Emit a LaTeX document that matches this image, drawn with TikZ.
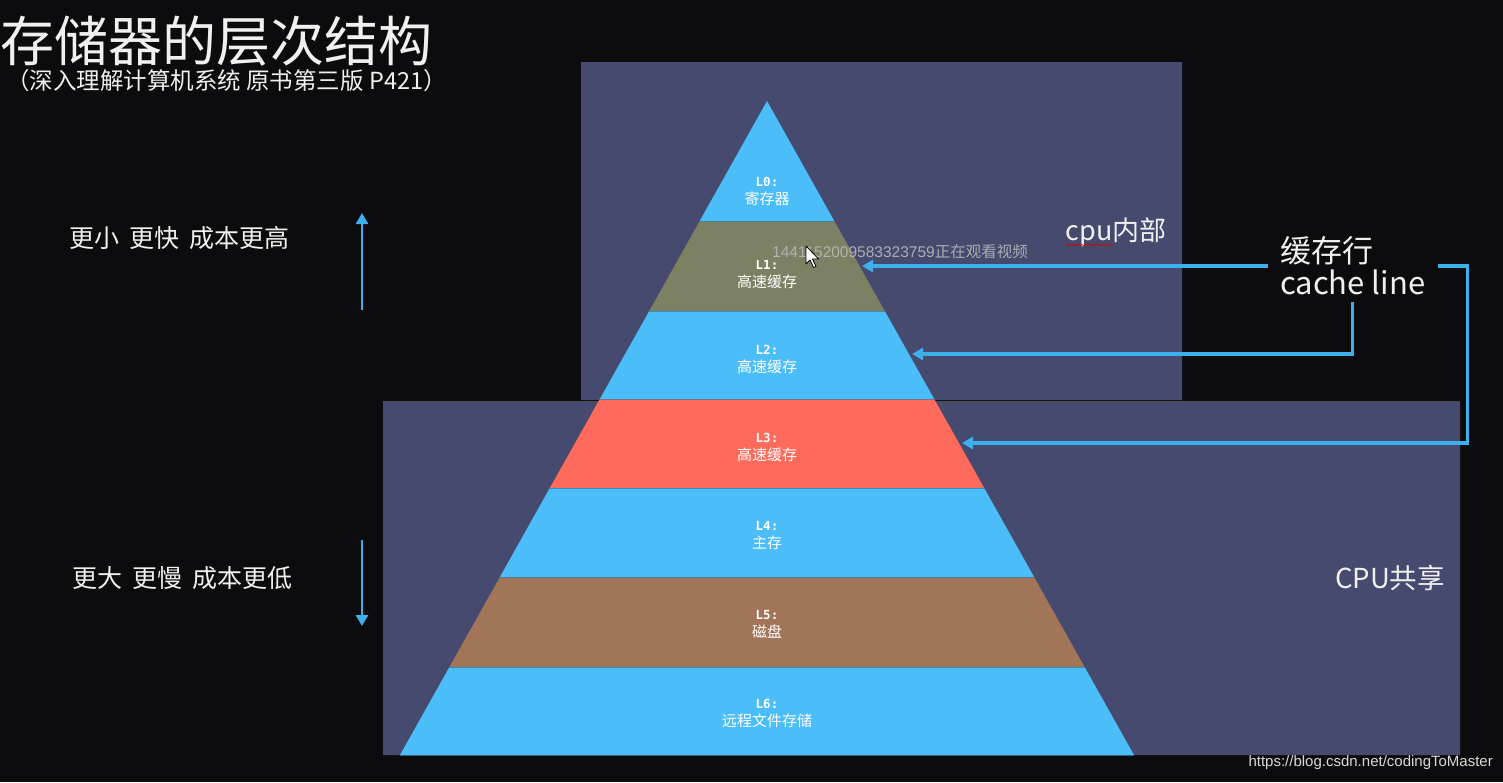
\documentclass[tikz,border=0pt]{standalone}
\usepackage{fontspec}
\setmainfont{Noto Sans CJK SC}
\newfontfamily\codefont{DejaVu Sans Mono}
\newfontfamily\webfont{Liberation Sans}
\usetikzlibrary{arrows.meta,calc,decorations.pathmorphing}
\usepackage{tkz-euclide}
\definecolor{BoardClr}{HTML}{0C0C0E}
\definecolor{PanelClr}{HTML}{464A6E}
\definecolor{SkyClr}{HTML}{4BBDF8}
\definecolor{OliveClr}{HTML}{7B8162}
\definecolor{CoralClr}{HTML}{FE6A5B}
\definecolor{ClayClr}{HTML}{A27458}
\definecolor{LinkClr}{HTML}{3DB0EC}

\begin{document}
\begin{tikzpicture}[x=1pt,y=-1pt,
  link/.style={draw=LinkClr,line width=3.2pt,
    -{Triangle[length=11pt,width=12pt]}},
  tier/.style={text=white,align=center,inner sep=0pt,
    font={\fontsize{15pt}{18pt}\selectfont}},
  chalk/.style={text=white!94!black,inner sep=0pt}]
\useasboundingbox (0,0) rectangle (1503,782);
\fill[BoardClr] (0,0) rectangle (1503,782);

% panels
\tkzDefPoints{581/62/P1,1182/62/P2,1182/400/P3,581/400/P4}
\tkzDefPoints{383/401/Q1,1460/401/Q2,1460/755/Q3,383/755/Q4}
\tkzFillPolygon[fill=PanelClr](P1,P2,P3,P4)
\tkzFillPolygon[fill=PanelClr](Q1,Q2,Q3,Q4)
\tkzDrawSegment[color=black!70,line width=0.8pt](Q1,Q2)

% pyramid
\tkzDefPoints{767/101/T,
  699.7/221/W1,834.3/221/E1,
  649.2/311/W2,884.8/311/E2,
  599.8/399/W3,934.2/399/E3,
  549.8/488/W4,984.2/488/E4,
  499.9/577/W5,1034.1/577/E5,
  449.4/667/W6,1084.6/667/E6,
  400/755/W7,1134/755/E7}

\tkzFillPolygon[fill=SkyClr](T,W1,E1)
\tkzFillPolygon[fill=OliveClr](W1,W2,E2,E1)
\tkzFillPolygon[fill=SkyClr](W2,W3,E3,E2)
\tkzFillPolygon[fill=CoralClr](W3,W4,E4,E3)
\tkzFillPolygon[fill=SkyClr](W4,W5,E5,E4)
\tkzFillPolygon[fill=ClayClr](W5,W6,E6,E5)
\tkzFillPolygon[fill=SkyClr](W6,W7,E7,E6)
\tkzDrawSegments[color=SkyClr!65!black,line width=0.8pt,opacity=.7](W1,E1 W2,E2 W3,E3 W4,E4 W5,E5 W6,E6 W7,E7)

\node[tier] (lv0) at (767,191) {{\codefont\bfseries\fontsize{12.5pt}{18pt}\selectfont L0:}\\寄存器};
\node[tier] (lv1) at (767,275) {{\codefont\bfseries\fontsize{12.5pt}{18pt}\selectfont L1:}\\高速缓存};
\node[tier] (lv2) at (767,359) {{\codefont\bfseries\fontsize{12.5pt}{18pt}\selectfont L2:}\\高速缓存};
\node[tier] (lv3) at (767,447) {{\codefont\bfseries\fontsize{12.5pt}{18pt}\selectfont L3:}\\高速缓存};
\node[tier] (lv4) at (767,536) {{\codefont\bfseries\fontsize{12.5pt}{18pt}\selectfont L4:}\\主存};
\node[tier] (lv5) at (767,624) {{\codefont\bfseries\fontsize{12.5pt}{18pt}\selectfont L5:}\\磁盘};
\node[tier] (lv6) at (767,713) {{\codefont\bfseries\fontsize{12.5pt}{18pt}\selectfont L6:}\\远程文件存储};

% titles
\node[chalk,anchor=west,font={\fontsize{54pt}{60pt}\selectfont}] (title) at (0,41) {存储器的层次结构};
\node[chalk,anchor=west,font={\fontsize{23.5pt}{26pt}\selectfont}] (source) at (6,81) {（深入理解计算机系统 原书第三版 P421）};

% side notes
\node[chalk,font={\fontsize{25pt}{28pt}\selectfont}] (small) at (179,238) {更小\hspace{10pt}更快\hspace{10pt}成本更高};
\node[chalk,font={\fontsize{25pt}{28pt}\selectfont}] (large) at (182,578) {更大\hspace{10pt}更慢\hspace{10pt}成本更低};
\coordinate (upfoot) at (362,310);
\coordinate (uptip) at (362,213);
\coordinate (downfoot) at (362,540);
\coordinate (downtip) at (362,626);
\draw[link,line width=2.6pt] (upfoot) -- (uptip);
\draw[link,line width=2.6pt] (downfoot) -- (downtip);

% panel names
\node[chalk,font={\fontsize{27pt}{30pt}\selectfont}] (cpuin) at (1116,232) {cpu内部};
\draw[red!85!black,line width=0.6pt,decorate,
  decoration={snake,amplitude=0.7pt,segment length=3pt}] (1066,245) -- (1113,245);
\node[chalk,font={\fontsize{27.5pt}{30pt}\selectfont}] (cpushare) at (1390,578) {CPU共享};

% cache line
\node[chalk,align=left,anchor=west,inner xsep=12pt,inner ysep=7pt,
  font={\fontsize{31pt}{32pt}\selectfont}] (cache) at (1268,266) {缓存行\\cache line};
\coordinate (hit1) at (862,266);
\coordinate (hit2) at (912,354);
\coordinate (hit3) at (962,443);
\draw[link] (cache.west) -- (hit1);
\draw[link] (cache.south) |- (hit2);
\draw[link] (cache.east) -- ++(30,0) |- (hit3);

% overlay from the screen capture
\node[text=white!72!black,opacity=.9,inner sep=0pt,
  font={\webfont\fontsize{15.5pt}{18pt}\selectfont}] (viewer) at (900,252) {1441152009583323759{\rmfamily 正在观看视频}};
\draw[fill=white,draw=black,line width=0.8pt,line join=round]
  (806,246) -- ++(0,18) -- ++(4,-4) -- ++(3.5,7.5) -- ++(2.5,-1) -- ++(-3.5,-7.5) -- ++(6,0) -- cycle;
\node[text=white!85!black,anchor=east,inner sep=0pt,
  font={\webfont\fontsize{15pt}{18pt}\selectfont}] (url) at (1493,763) {https://blog.csdn.net/codingToMaster};
\end{tikzpicture}
\end{document}
